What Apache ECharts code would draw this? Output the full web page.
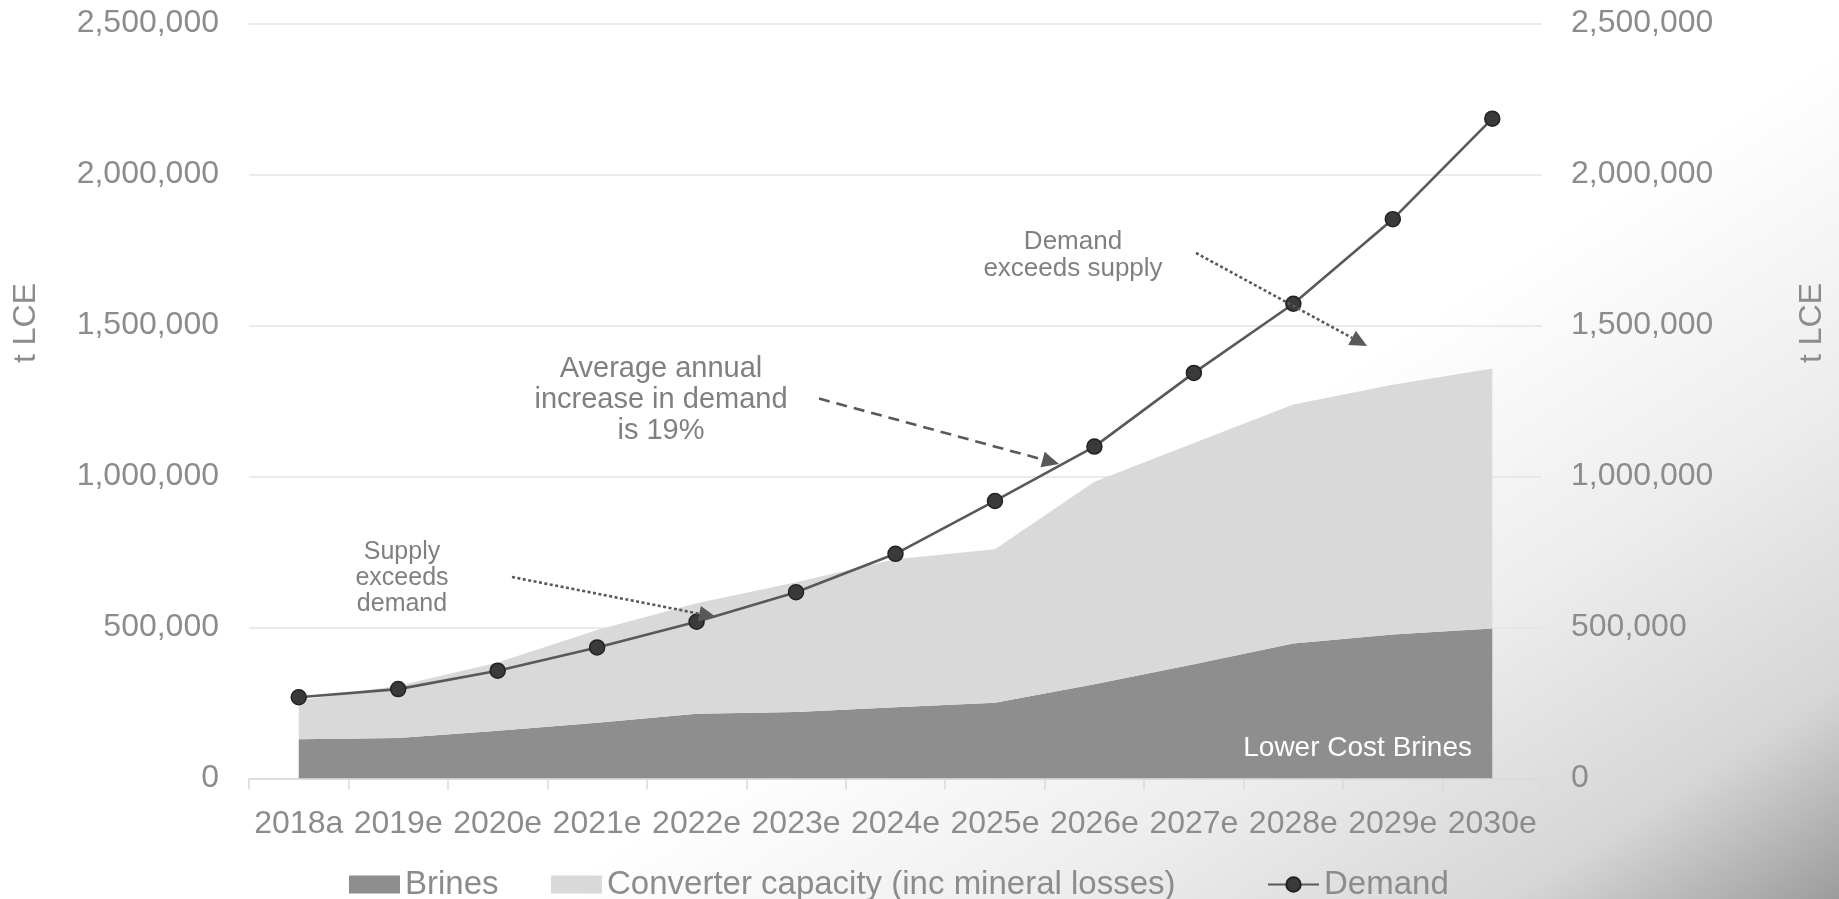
<!DOCTYPE html>
<html>
<head>
<meta charset="utf-8">
<script src="https://cdn.jsdelivr.net/npm/echarts@6/dist/echarts.min.js"></script>
<style>
html,body{margin:0;padding:0;background:#fff;}
#chart{width:1839px;height:899px;}
</style>
</head>
<body>
<div id="chart"></div>
<script>
// ---- data ----
const categories = ['2018a','2019e','2020e','2021e','2022e','2023e','2024e','2025e','2026e','2027e','2028e','2029e','2030e'];
const brines    = [130000,134000,158000,185000,214000,220000,236000,251000,312000,378000,447000,477000,497000];
const converter = [128000,173000,226000,307000,366000,430000,490000,508000,671000,733000,791000,827000,861000];
const demand    = [269000,296000,357000,434000,519000,617000,744000,919000,1099000,1343000,1572000,1852000,2185000];
const yTicks = { min: 0, max: 2500000, interval: 500000 };
const seriesNames = ['Brines','Converter capacity (inc mineral losses)','Demand'];
const axisTitle = 't LCE';
const notes = {
  supply: 'Supply\nexceeds\ndemand',
  avg: 'Average annual\nincrease in demand\nis 19%',
  demandEx: 'Demand\nexceeds supply',
  brinesLabel: 'Lower Cost Brines'
};

const FONT = "'Liberation Sans', Arial, sans-serif";
const GREY = '#8c8c8c';
const fmt = v => Number(v).toLocaleString('en-US');

function arrow(x1, y1, x2, y2, dash) {
  const dx = x2 - x1, dy = y2 - y1;
  const len = Math.sqrt(dx*dx + dy*dy);
  const ux = dx/len, uy = dy/len;
  const hl = 17, hw = 8;
  const bx = x2 - ux*hl, by = y2 - uy*hl;
  return [
    { type:'line', silent:true, z:50,
      shape:{x1:x1, y1:y1, x2:bx, y2:by},
      style:{stroke:'#595959', lineWidth:2.6, lineDash:dash} },
    { type:'polygon', silent:true, z:50,
      shape:{points:[[x2,y2],[bx - uy*hw, by + ux*hw],[bx + uy*hw, by - ux*hw]]},
      style:{fill:'#595959'} }
  ];
}

function legendItem(name, left, icon) {
  const item = icon ? {name:name, icon:icon} : {name:name};
  return {
    left:left, top:863,
    itemWidth:51, itemHeight:18,
    textStyle:{fontSize:33, color:GREY, fontFamily:FONT},
    data:[item]
  };
}

const chart = echarts.init(document.getElementById('chart'), null, {renderer:'canvas'});
const option = {
  animation:false,
  backgroundColor:'#ffffff',
  textStyle:{fontFamily:FONT},
  grid:{left:249, right:297, top:23.5, bottom:120.5, containLabel:false},
  legend:[
    legendItem(seriesNames[0], 344, 'rect'),
    legendItem(seriesNames[1], 546, 'rect'),
    legendItem(seriesNames[2], 1262, null)
  ],
  xAxis:{
    type:'category', data:categories, boundaryGap:true,
    axisLine:{lineStyle:{color:'#d9d9d9', width:1.5}},
    axisTick:{show:true, length:11, lineStyle:{color:'#d9d9d9', width:1.5}},
    axisLabel:{fontSize:32, color:GREY, margin:30, interval:0, fontFamily:FONT}
  },
  yAxis:[
    { type:'value', min:yTicks.min, max:yTicks.max, interval:yTicks.interval, position:'left',
      axisLine:{show:false}, axisTick:{show:false},
      splitLine:{lineStyle:{color:'#e4e4e4', width:1.5}},
      axisLabel:{fontSize:32, color:GREY, margin:30, formatter:fmt, fontFamily:FONT, padding:[4,0,0,0]} },
    { type:'value', min:yTicks.min, max:yTicks.max, interval:yTicks.interval, position:'right',
      axisLine:{show:false}, axisTick:{show:false}, splitLine:{show:false},
      axisLabel:{fontSize:32, color:GREY, margin:29, formatter:fmt, fontFamily:FONT, padding:[4,0,0,0]} }
  ],
  series:[
    { name:seriesNames[0], type:'line', stack:'supply', data:brines, symbol:'none',
      color:'#8e8e8e', lineStyle:{width:0}, areaStyle:{color:'#8e8e8e', opacity:1}, z:2 },
    { name:seriesNames[1], type:'line', stack:'supply', data:converter, symbol:'none',
      color:'#d9d9d9', lineStyle:{width:0}, areaStyle:{color:'#d9d9d9', opacity:1}, z:2 },
    { name:seriesNames[2], type:'line', data:demand, symbol:'circle', symbolSize:15,
      color:'#595959', lineStyle:{color:'#595959', width:2.6},
      itemStyle:{color:'#3a3a3a', borderColor:'#222222', borderWidth:1.5}, z:5 }
  ],
  graphic:[
    { type:'rect', silent:true, z:-100, zlevel:0,
      shape:{x:0, y:0, width:1839, height:899},
      style:{fill:{type:'linear', x:1450/1839, y:303/899, x2:1, y2:1,
        colorStops:[{offset:0,color:'#ffffff'},{offset:0.4,color:'#ededed'},{offset:0.75,color:'#d6d6d6'},{offset:1,color:'#9c9c9c'}]}} },
    { type:'text', silent:true, z:50, x:26, y:323, rotation:Math.PI/2,
      style:{text:axisTitle, font:"32px "+FONT, fill:GREY, align:'center', verticalAlign:'middle'} },
    { type:'text', silent:true, z:50, x:1812, y:323, rotation:Math.PI/2,
      style:{text:axisTitle, font:"32px "+FONT, fill:GREY, align:'center', verticalAlign:'middle'} },
    { type:'text', silent:true, z:50, x:402, y:578,
      style:{text:notes.supply, font:"25px "+FONT, fill:'#808080', align:'center', verticalAlign:'middle', lineHeight:26} },
    { type:'text', silent:true, z:50, x:661, y:400,
      style:{text:notes.avg, font:"29px "+FONT, fill:'#808080', align:'center', verticalAlign:'middle', lineHeight:31} },
    { type:'text', silent:true, z:50, x:1073, y:255,
      style:{text:notes.demandEx, font:"26px "+FONT, fill:'#808080', align:'center', verticalAlign:'middle', lineHeight:27} },
    { type:'text', silent:true, z:50, x:1472, y:748,
      style:{text:notes.brinesLabel, font:"28px "+FONT, fill:'#ffffff', align:'right', verticalAlign:'middle'} }
  ]
  .concat(arrow(512, 577, 716, 617, [3,2.5]))
  .concat(arrow(819, 398.5, 1059, 464, [11,7]))
  .concat(arrow(1196, 253, 1367, 346, [3,2.5]))
};
chart.setOption(option);
</script>
</body>
</html>
